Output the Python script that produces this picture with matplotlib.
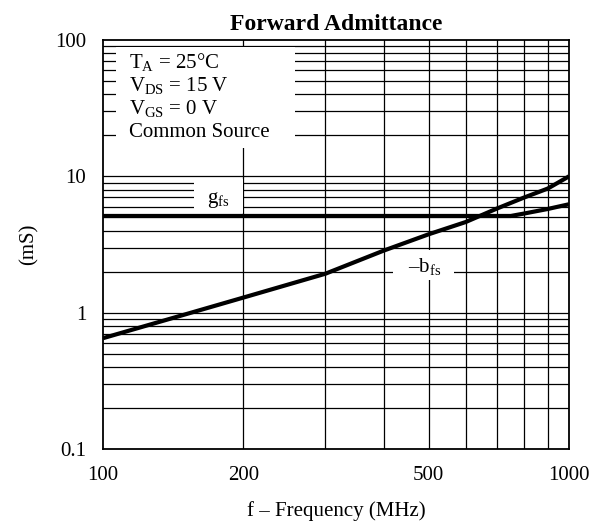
import matplotlib.pyplot as plt
from matplotlib.patches import Rectangle
from matplotlib.ticker import FixedLocator, NullFormatter, NullLocator

plt.rcParams['font.family'] = ['Liberation Serif', 'DejaVu Serif']
plt.rcParams['mathtext.fontset'] = 'custom'
plt.rcParams['mathtext.rm'] = 'Liberation Serif'
plt.rcParams['mathtext.it'] = 'Liberation Serif:italic'

# Dados
freq = [100, 200, 300, 400, 500, 600, 700, 800, 900, 1000]
bfs = [0.65, 1.29, 1.93, 2.85, 3.76, 4.62, 5.8, 6.98, 8.13, 10.0]
gfs_freq = [100, 300, 500, 750, 800, 900, 1000]
gfs = [5.12, 5.12, 5.12, 5.12, 5.33, 5.76, 6.24]

x_ticks = [100, 200, 500, 1000]
x_labels = ['100', '200', '500', '1000']
y_ticks = [0.1, 1, 10, 100]
y_labels = ['0.1', '1', '10', '100']
x_grid = [200, 300, 400, 500, 600, 700, 800, 900]
y_grid = [m * d for d in (0.1, 1, 10) for m in range(2, 10)] + [1, 10]

fig = plt.figure(figsize=(6.01, 5.24), dpi=100)
ax = fig.add_axes([0.1714, 0.1431, 0.7754, 0.7806])
ax.set_xscale('log')
ax.set_yscale('log')
ax.set_xlim(100, 1000)
ax.set_ylim(0.1, 100)

for xv in x_grid:
    ax.axvline(xv, color='black', lw=0.9, zorder=1)
for yv in y_grid:
    ax.axhline(yv, color='black', lw=0.9, zorder=1)

# caixas brancas sobre a grade
ax.add_patch(Rectangle((0.028, 0.736), 0.384, 0.246, transform=ax.transAxes,
                       facecolor='white', edgecolor='none', zorder=2))
ax.add_patch(Rectangle((0.195, 0.577), 0.105, 0.083, transform=ax.transAxes,
                       facecolor='white', edgecolor='none', zorder=2))
ax.add_patch(Rectangle((0.622, 0.413), 0.131, 0.074, transform=ax.transAxes,
                       facecolor='white', edgecolor='none', zorder=2))

ax.plot(freq, bfs, color='black', lw=3.0, zorder=4, solid_capstyle='butt')
ax.plot(gfs_freq, gfs, color='black', lw=3.0, zorder=4, solid_capstyle='butt')

cond = [r'T$_\mathrm{A}$ = 25°C', r'V$_\mathrm{DS}$ = 15 V',
        r'V$_\mathrm{GS}$ = 0 V', 'Common Source']
for i, s in enumerate(cond):
    ax.text(0.055, 0.946 - i * 0.057, s, transform=ax.transAxes,
            fontsize=15, va='center', ha='left', zorder=3)
ax.text(0.247, 0.609, r'g$_\mathrm{fs}$', transform=ax.transAxes,
        fontsize=15, ha='center', va='center', zorder=3)
ax.text(0.690, 0.447, r'–b$_\mathrm{fs}$', transform=ax.transAxes,
        fontsize=15, ha='center', va='center', zorder=3)

ax.xaxis.set_major_locator(FixedLocator(x_ticks))
ax.xaxis.set_minor_locator(NullLocator())
ax.set_xticklabels(x_labels)
ax.yaxis.set_major_locator(FixedLocator(y_ticks))
ax.yaxis.set_minor_locator(NullLocator())
ax.set_yticklabels(y_labels)
ax.xaxis.set_minor_formatter(NullFormatter())
ax.tick_params(axis='x', length=0, labelsize=15, pad=12)
ax.tick_params(axis='y', length=0, labelsize=15, pad=12)
for sp in ax.spines.values():
    sp.set_linewidth(1.3)

ax.set_title('Forward Admittance', fontsize=17, fontweight='bold', pad=7)
ax.set_xlabel('f – Frequency (MHz)', fontsize=15, labelpad=12)
ax.set_ylabel('(mS)', fontsize=15, labelpad=12)

fig.savefig('out.png', dpi=100)
